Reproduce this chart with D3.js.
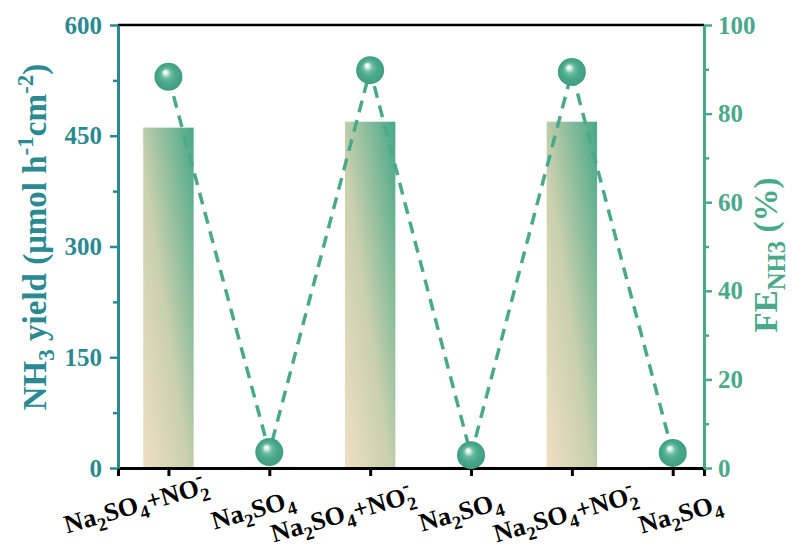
<!DOCTYPE html>
<html>
<head>
<meta charset="utf-8">
<script src="https://cdn.jsdelivr.net/npm/d3@7/dist/d3.min.js"></script>
<style>
  body { margin: 0; background: #fff; }
  svg text { font-family: "Liberation Serif", "Times New Roman", serif; font-weight: bold; }
</style>
</head>
<body>
<div id="chart"></div>
<script>
// categories (electrolyte per run)
var categories = ["Na2SO4+NO2-", "Na2SO4", "Na2SO4+NO2-", "Na2SO4", "Na2SO4+NO2-", "Na2SO4"];
var yieldValues = [461, 1.5, 469, 1.5, 469, 1.5];   // NH3 yield, umol h-1 cm-2
var feValues = [88.3, 3.6, 89.8, 2.9, 89.4, 3.4];    // FE NH3, %
var leftTicks = [0, 150, 300, 450, 600];
var rightTicks = [0, 20, 40, 60, 80, 100];
// hand placement of the tilted category labels (baseline middle, offset from tick)
var labelShift = [[-30, 45], [-14, 50], [-25, 54], [-8, 52], [-4, 54], [10, 54]];

var W = 792, H = 550;
var m = {l: 118, r: 88, t: 25, b: 82};
var leftColor = "#2b8a91", rightColor = "#4aa98a";

var svg = d3.select("#chart").append("svg").attr("width", W).attr("height", H);
var defs = svg.append("defs");

var barGrad = defs.append("linearGradient").attr("id", "barGrad")
  .attr("x1", 0).attr("y1", 1).attr("x2", 1).attr("y2", 0);
barGrad.append("stop").attr("offset", "0%").attr("stop-color", "#efdfc3");
barGrad.append("stop").attr("offset", "45%").attr("stop-color", "#c9d0ae");
barGrad.append("stop").attr("offset", "100%").attr("stop-color", "#47a888");

var ballGrad = defs.append("radialGradient").attr("id", "ballGrad")
  .attr("cx", "50%").attr("cy", "50%").attr("r", "50%").attr("fx", "38%").attr("fy", "32%");
ballGrad.append("stop").attr("offset", "0%").attr("stop-color", "#ffffff");
ballGrad.append("stop").attr("offset", "12%").attr("stop-color", "#e8f5f0");
ballGrad.append("stop").attr("offset", "35%").attr("stop-color", "#6cbca0");
ballGrad.append("stop").attr("offset", "60%").attr("stop-color", "#4aaa8b");
ballGrad.append("stop").attr("offset", "100%").attr("stop-color", "#3f9e80");

var x = d3.scaleLinear().domain([0.5, 6.31]).range([m.l, W - m.r]);
var yL = d3.scaleLinear().domain([0, 600]).range([H - m.b, m.t]);
var yR = d3.scaleLinear().domain([0, 100]).range([H - m.b, m.t]);

var idx = d3.range(1, categories.length + 1);
var barW = x(1.5) - x(1);

// bars
svg.append("g").selectAll("rect").data(yieldValues).join("rect")
  .attr("x", function(d, i) { return x(i + 1) - barW / 2; })
  .attr("y", function(d) { return yL(d); })
  .attr("width", barW)
  .attr("height", function(d) { return yL(0) - yL(d); })
  .attr("fill", "url(#barGrad)");

// dashed FE line
var line = d3.line().x(function(d, i) { return x(i + 1); }).y(function(d) { return yR(d); });
svg.append("path").datum(feValues).attr("d", line)
  .attr("fill", "none").attr("stroke", rightColor).attr("stroke-width", 3.5)
  .attr("stroke-dasharray", "12 8");

// frame: top line
svg.append("line").attr("x1", m.l).attr("x2", W - m.r).attr("y1", m.t).attr("y2", m.t)
  .attr("stroke", "#000").attr("stroke-width", 2.5);

// bottom axis
var xAxis = svg.append("g").attr("transform", "translate(0," + (H - m.b) + ")")
  .call(d3.axisBottom(x).tickValues(idx).tickSize(8).tickFormat(""));
xAxis.select(".domain").attr("stroke", "#000").attr("stroke-width", 3);
xAxis.selectAll(".tick line").attr("stroke", "#000").attr("stroke-width", 3);

// left axis
var lAxis = svg.append("g").attr("transform", "translate(" + m.l + ",0)")
  .call(d3.axisLeft(yL).tickValues(leftTicks).tickSize(8).tickPadding(8).tickSizeOuter(0));
lAxis.select(".domain").attr("stroke", leftColor).attr("stroke-width", 3);
lAxis.selectAll(".tick line").attr("stroke", leftColor).attr("stroke-width", 2.5);
lAxis.selectAll(".tick text").attr("fill", leftColor).style("font-size", "25px");
svg.append("g").attr("transform", "translate(" + m.l + ",0)")
  .call(d3.axisLeft(yL).tickValues([75, 225, 375, 525]).tickSize(5).tickFormat(""))
  .call(function(g) { g.select(".domain").remove(); })
  .selectAll("line").attr("stroke", leftColor).attr("stroke-width", 2.5);

// right axis
var rAxis = svg.append("g").attr("transform", "translate(" + (W - m.r) + ",0)")
  .call(d3.axisRight(yR).tickValues(rightTicks).tickSize(8).tickPadding(6).tickSizeOuter(0));
rAxis.select(".domain").attr("stroke", rightColor).attr("stroke-width", 3);
rAxis.selectAll(".tick line").attr("stroke", rightColor).attr("stroke-width", 2.5);
rAxis.selectAll(".tick text").attr("fill", rightColor).style("font-size", "25px");
svg.append("g").attr("transform", "translate(" + (W - m.r) + ",0)")
  .call(d3.axisRight(yR).tickValues([10, 30, 50, 70, 90]).tickSize(5).tickFormat(""))
  .call(function(g) { g.select(".domain").remove(); })
  .selectAll("line").attr("stroke", rightColor).attr("stroke-width", 2.5);

// sphere markers
svg.append("g").selectAll("circle").data(feValues).join("circle")
  .attr("cx", function(d, i) { return x(i + 1); })
  .attr("cy", function(d) { return yR(d); })
  .attr("r", 14)
  .attr("fill", "url(#ballGrad)");

// write chemical formula with sub/superscripts
function formula(sel, s) {
  var parts = s.match(/[A-Za-z+()%]+|\d|-/g);
  var shift = 0;
  parts.forEach(function(p, k) {
    var target = 0, dx = 0, size = null;
    if (/^\d$/.test(p)) { target = 7; size = "0.72em"; }
    else if (p === "-") { target = -12; size = "0.8em"; dx = (parts[k - 1] && /^\d$/.test(parts[k - 1])) ? -10 : 0; }
    var t = sel.append("tspan").text(p).attr("dy", target - shift);
    if (dx) t.attr("dx", dx);
    if (size) t.style("font-size", size);
    shift = target;
  });
}

var labels = svg.append("g").selectAll("text").data(categories).join("text")
  .attr("transform", function(d, i) {
    return "translate(" + (x(i + 1) + labelShift[i][0]) + "," + (H - m.b + labelShift[i][1]) + ") rotate(-16)";
  })
  .attr("text-anchor", "middle")
  .attr("fill", "#000")
  .style("font-size", "26px");
labels.each(function(d) { formula(d3.select(this), d); });

// left title
var lt = svg.append("text")
  .attr("transform", "translate(46,237) rotate(-90)")
  .attr("text-anchor", "middle").attr("fill", leftColor).style("font-size", "33px");
lt.append("tspan").text("NH");
lt.append("tspan").text("3").attr("dy", 8).style("font-size", "0.7em");
lt.append("tspan").text(" yield (\u03bcmol h").attr("dy", -8);
lt.append("tspan").text("-1").attr("dy", -13).style("font-size", "0.7em");
lt.append("tspan").text("cm").attr("dy", 13);
lt.append("tspan").text("-2").attr("dy", -13).style("font-size", "0.7em");
lt.append("tspan").text(")").attr("dy", 13);

// right title
var rt = svg.append("text")
  .attr("transform", "translate(777,255) rotate(-90)")
  .attr("text-anchor", "middle").attr("fill", rightColor).style("font-size", "33px");
rt.append("tspan").text("FE");
rt.append("tspan").text("NH3").attr("dy", 8).style("font-size", "0.75em");
rt.append("tspan").text(" (%)").attr("dy", -8);
</script>
</body>
</html>
